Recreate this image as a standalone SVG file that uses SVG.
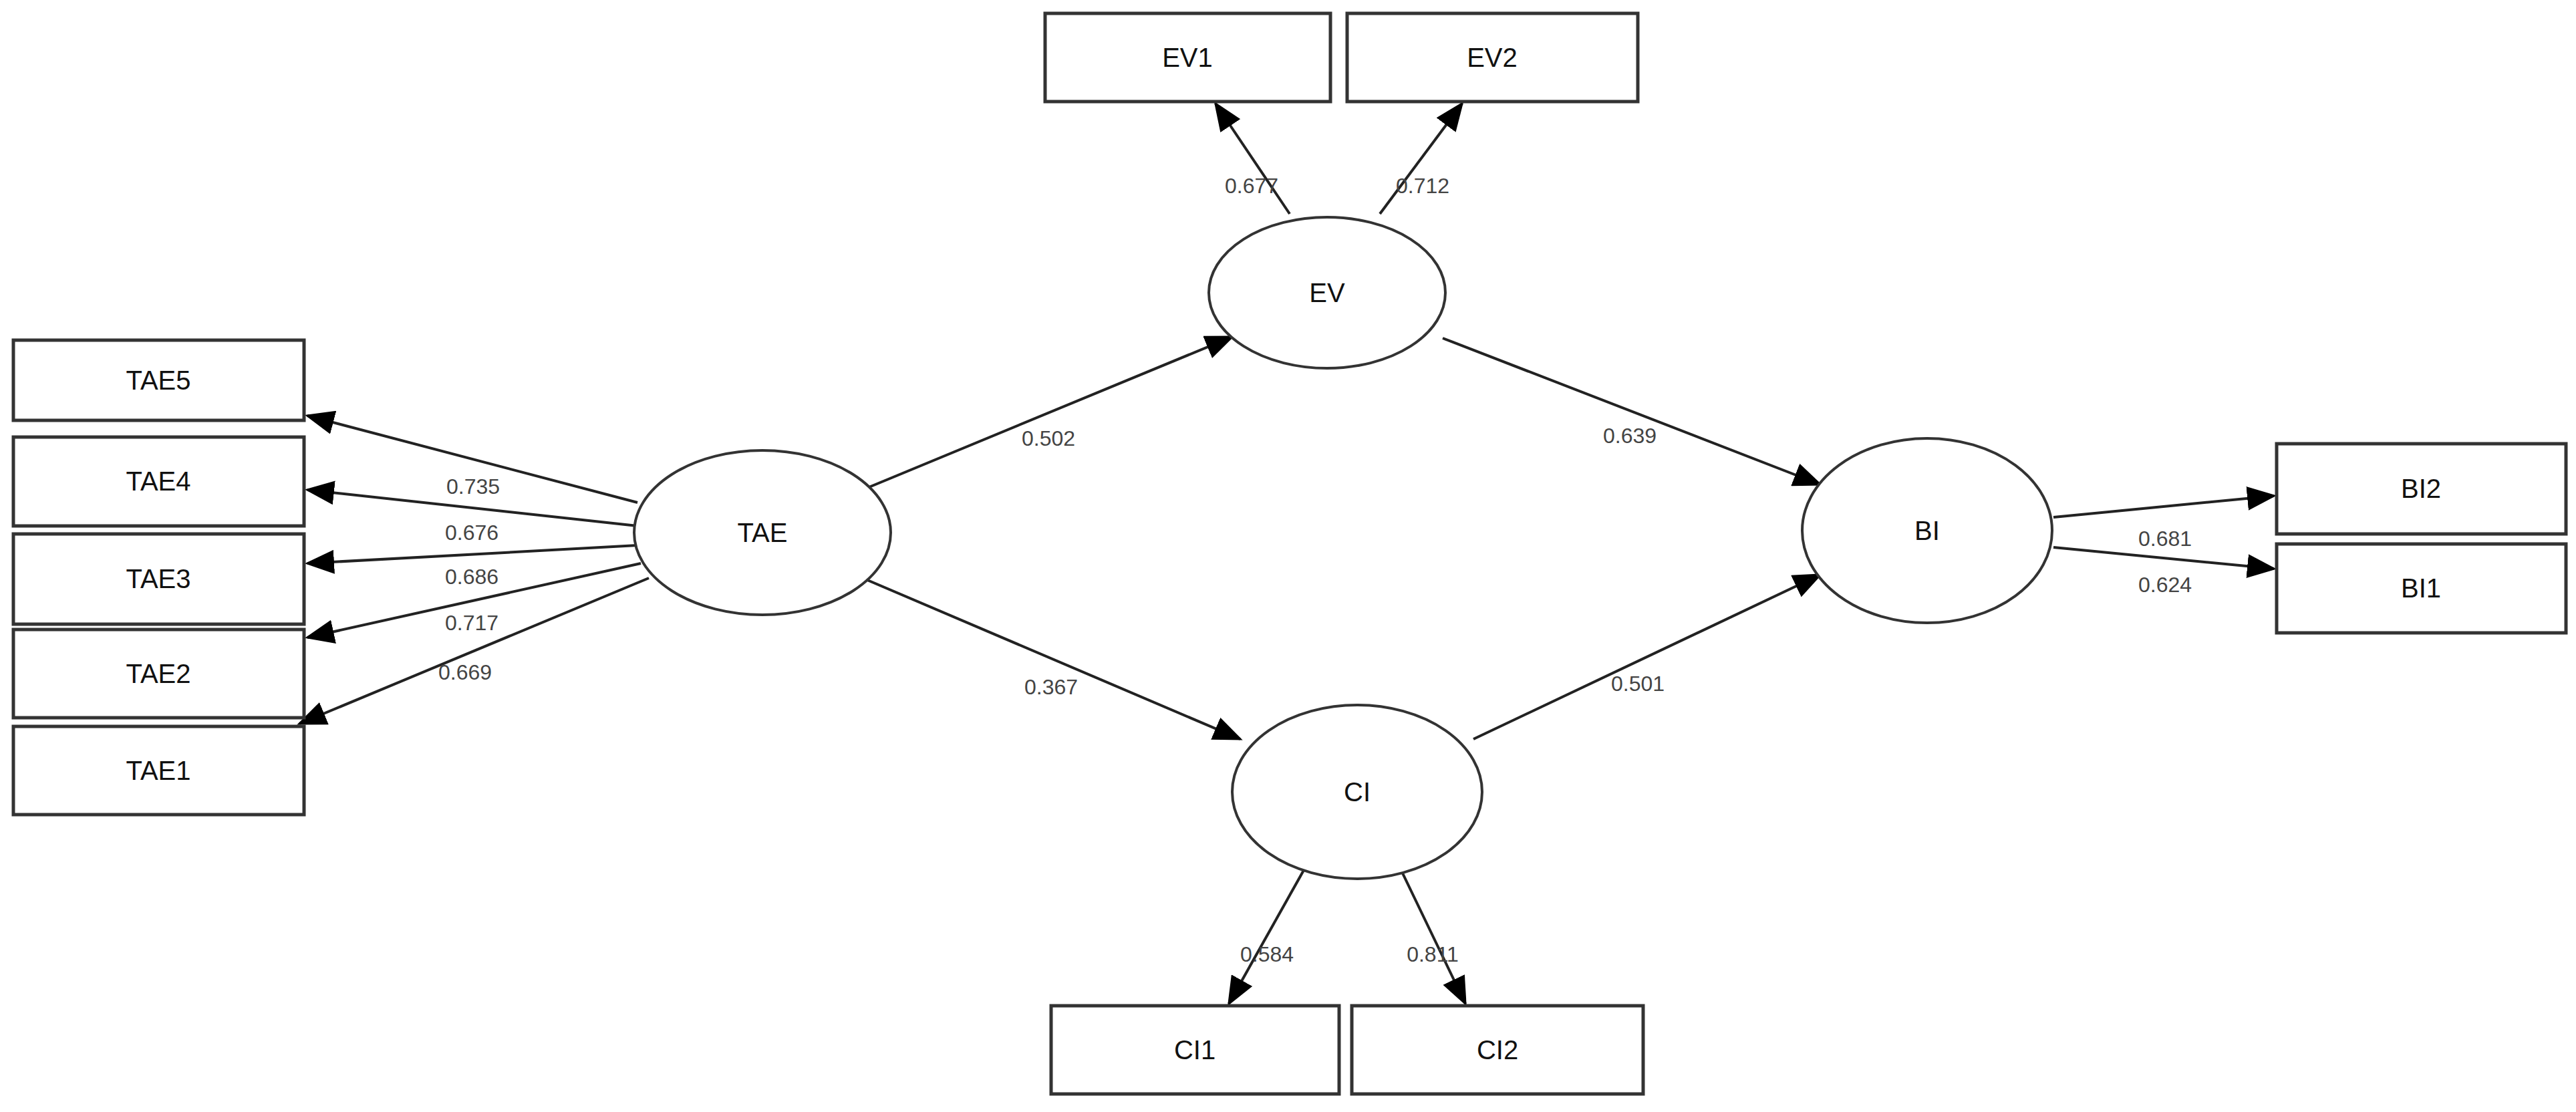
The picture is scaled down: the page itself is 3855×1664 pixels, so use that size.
<svg xmlns="http://www.w3.org/2000/svg" width="3855" height="1664" viewBox="0 0 3855 1664">
<style>
.box{fill:#fff;stroke:#333;stroke-width:5}
.ell{fill:#fff;stroke:#333;stroke-width:4}
.lbl{font-family:"Liberation Sans",Arial,sans-serif;font-size:40px;fill:#111;text-anchor:middle;dominant-baseline:central}
.w{font-family:"Liberation Sans",Arial,sans-serif;font-size:32px;fill:#444;text-anchor:middle;dominant-baseline:central}
.c line{stroke:#222;stroke-width:4;marker-end:url(#ah)}
</style>
<defs>
<marker id="ah" markerUnits="userSpaceOnUse" markerWidth="44" markerHeight="36" refX="40" refY="18" orient="auto" viewBox="0 0 44 36"><path d="M0,0 L44,18 L0,36 Z" fill="#000"/></marker>
</defs>
<rect width="3855" height="1664" fill="#fff"/>
<g id="connectors" class="c">
<line x1="954" y1="752" x2="460" y2="622"/>
<line x1="954" y1="787" x2="460" y2="733"/>
<line x1="954" y1="816" x2="460" y2="843"/>
<line x1="959" y1="843" x2="460" y2="954"/>
<line x1="971" y1="865" x2="448" y2="1083"/>
<line x1="1298" y1="730" x2="1844" y2="504"/>
<line x1="1298" y1="868" x2="1856" y2="1106"/>
<line x1="2159" y1="506" x2="2724" y2="725"/>
<line x1="2205" y1="1106" x2="2724" y2="860"/>
<line x1="1930" y1="320" x2="1819" y2="155"/>
<line x1="2065" y1="320" x2="2188" y2="155"/>
<line x1="1959" y1="1288" x2="1839" y2="1502"/>
<line x1="2090" y1="1288" x2="2193" y2="1502"/>
<line x1="3073" y1="774" x2="3403" y2="742"/>
<line x1="3073" y1="819" x2="3403" y2="851"/>
</g>
<g id="weights">
<text class="w" x="708" y="728">0.735</text>
<text class="w" x="706" y="797">0.676</text>
<text class="w" x="706" y="863">0.686</text>
<text class="w" x="706" y="932">0.717</text>
<text class="w" x="696" y="1006">0.669</text>
<text class="w" x="1569" y="656">0.502</text>
<text class="w" x="1573" y="1028">0.367</text>
<text class="w" x="2439" y="652">0.639</text>
<text class="w" x="2451" y="1023">0.501</text>
<text class="w" x="1873" y="278">0.677</text>
<text class="w" x="2129" y="278">0.712</text>
<text class="w" x="1896" y="1428">0.584</text>
<text class="w" x="2144" y="1428">0.811</text>
<text class="w" x="3240" y="806">0.681</text>
<text class="w" x="3240" y="875">0.624</text>
</g>
<g id="TAE5"><rect class="box" x="20" y="509" width="435" height="120"/><text class="lbl" x="237" y="569">TAE5</text></g>
<g id="TAE4"><rect class="box" x="20" y="654" width="435" height="133"/><text class="lbl" x="237" y="720">TAE4</text></g>
<g id="TAE3"><rect class="box" x="20" y="799" width="435" height="135"/><text class="lbl" x="237" y="866">TAE3</text></g>
<g id="TAE2"><rect class="box" x="20" y="942" width="435" height="132"/><text class="lbl" x="237" y="1008">TAE2</text></g>
<g id="TAE1"><rect class="box" x="20" y="1087" width="435" height="132"/><text class="lbl" x="237" y="1153">TAE1</text></g>
<g id="TAE"><ellipse class="ell" cx="1141" cy="797" rx="192" ry="123"/><text class="lbl" x="1141" y="797">TAE</text></g>
<g id="EV"><ellipse class="ell" cx="1986" cy="438" rx="177" ry="113"/><text class="lbl" x="1986" y="438">EV</text></g>
<g id="CI"><ellipse class="ell" cx="2031" cy="1185" rx="187" ry="130"/><text class="lbl" x="2031" y="1185">CI</text></g>
<g id="BI"><ellipse class="ell" cx="2884" cy="794" rx="187" ry="138"/><text class="lbl" x="2884" y="794">BI</text></g>
<g id="EV1"><rect class="box" x="1564" y="20" width="427" height="132"/><text class="lbl" x="1777" y="86">EV1</text></g>
<g id="EV2"><rect class="box" x="2016" y="20" width="435" height="132"/><text class="lbl" x="2233" y="86">EV2</text></g>
<g id="CI1"><rect class="box" x="1573" y="1505" width="431" height="132"/><text class="lbl" x="1788" y="1571">CI1</text></g>
<g id="CI2"><rect class="box" x="2023" y="1505" width="436" height="132"/><text class="lbl" x="2241" y="1571">CI2</text></g>
<g id="BI2"><rect class="box" x="3407" y="664" width="433" height="135"/><text class="lbl" x="3623" y="731">BI2</text></g>
<g id="BI1"><rect class="box" x="3407" y="814" width="433" height="133"/><text class="lbl" x="3623" y="880">BI1</text></g>
</svg>
